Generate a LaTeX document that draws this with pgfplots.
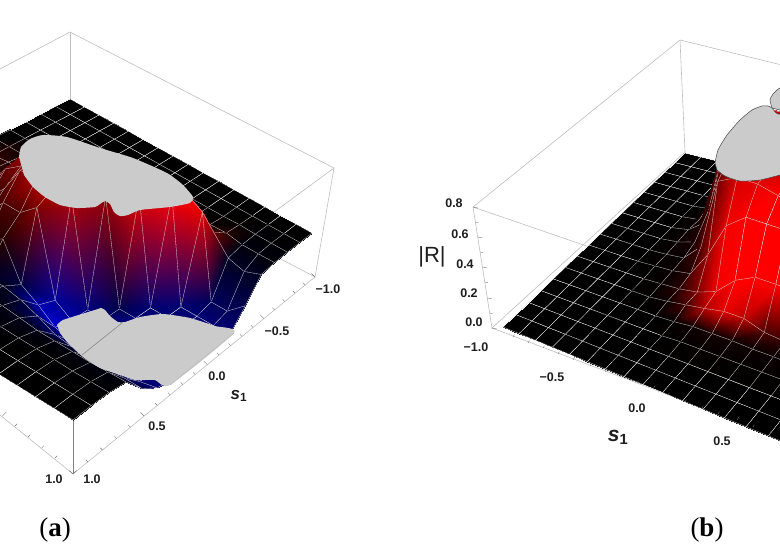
\documentclass[border=0pt]{standalone}
\usepackage{pgfplots}
\usepackage{pgfplotstable}
\pgfplotsset{compat=1.18}
\usepackage{fontspec}
\setmainfont{Liberation Sans}
\newfontfamily\capfont{Liberation Serif}
\definecolor{boxgray}{RGB}{190,190,190}
\definecolor{tickgray}{RGB}{120,120,120}
\definecolor{capgray}{RGB}{203,203,203}
\definecolor{labelk}{RGB}{30,30,30}
\tikzset{
  declare function={
    cj(\n)=floor((\n+.5)/17);
    ci(\n)=\n-17*floor((\n+.5)/17);
    fxl(\a,\b)=(316.4*\a/16-297.8*\b/16+73)/(1+.2481*\a/16+.0604*\b/16);
    fyl(\a,\b)=(-129.2*\a/16-161.3*\b/16+420)/(1+.2481*\a/16+.0604*\b/16);
    kl(\c)=1+(\c>0?.043:.03)*\c;
    fxr(\a,\b)=(160.8*\a/16+281.4*\b/16+503)/(1-.1855*\a/16+.1451*\b/16);
    fyr(\a,\b)=(43.6*\a/16-151.8*\b/16+327)/(1-.1855*\a/16+.1451*\b/16);
    kr(\c)=1+.055*\c;
  },
  tl/.style={font=\fontsize{12.5}{14}\selectfont\bfseries,text=labelk,inner sep=0pt},
}
\pgfplotsset{
  panel/.style={x=1pt,y=1pt,y dir=reverse,ymin=0,ymax=550,hide axis,anchor=south west},
  sheet/.style={surf,shader=faceted interp,faceted color=white!85!black,line width=.3pt,
    mesh/rows=17,mesh/cols=17,mesh/color input=explicit mathparse,
    point meta={symbolic={(\thisrow{m}+abs(\thisrow{m}))/2,0,(abs(\thisrow{m})-\thisrow{m})/2}}},
  boxline/.style={boxgray,line width=.6pt},
}
% z: height scaled to the clipped range, m: signed colour (red +, blue -)
% rows run from the far edge of the s1,s2 grid to the near edge
\pgfplotstableread[row sep=\\]{z m\\
0 0\\0 0\\0 0\\0 0\\0 0\\0 0\\0 0\\0 0\\0 0\\0 0\\0 0\\0 0\\0 0\\0 0\\0 0\\0 0\\0 0\\
0 0\\0 0\\0 0\\0 0\\0 0\\0 .1\\0 .2\\0 .2\\0 0\\0 0\\0 0\\0 0\\0 0\\0 0\\0 0\\0 0\\0 0\\
0 0\\0 0\\0 0\\0 0\\0 0\\0 .05\\.03 .15\\.05 .2\\.02 .1\\0 0\\0 0\\0 0\\0 0\\0 0\\0 0\\0 0\\0 0\\
0 0\\0 0\\0 0\\0 0\\0 0\\.01 .05\\.03 .1\\.1 .2\\.1 .2\\.02 .05\\0 0\\0 0\\0 0\\0 0\\0 0\\0 0\\0 0\\
0 0\\0 0\\0 0\\0 0\\0 0\\.02 .05\\.05 .1\\.3 .3\\.5 .4\\.2 .2\\.03 .05\\0 0\\0 0\\0 0\\0 0\\0 0\\0 0\\
0 0\\0 0\\0 0\\0 0\\0 0\\.02 .05\\.1 .2\\.9 .8\\.7 .5\\.5 .3\\.25 .15\\.03 .05\\0 0\\0 0\\0 0\\0 0\\0 0\\
0 0\\0 0\\0 0\\0 0\\.01 .02\\.03 .05\\.7 .7\\1 .8\\1 .8\\.95 .5\\.6 .3\\.15 .12\\0 0\\0 0\\0 0\\0 0\\0 0\\
0 0\\0 0\\0 0\\0 0\\.01 .02\\.05 .1\\.9 .8\\1 .8\\1 .8\\1 .7\\.6 .3\\.35 .15\\-.1 -.1\\-.05 -.05\\0 0\\0 0\\0 0\\
0 0\\0 0\\0 0\\0 0\\.01 .02\\.05 .1\\1 .8\\1 .85\\1 .85\\1 .8\\.85 .5\\-.35 -.25\\-.12 -.1\\-.03 -.03\\0 0\\0 0\\0 0\\
0 0\\0 0\\0 0\\0 0\\.01 .02\\.1 .15\\1 .85\\1 .9\\1 .85\\1 .7\\-.75 -.6\\-.6 -.7\\-.2 -.2\\-.06 -.08\\-.01 -.01\\0 0\\0 0\\
0 0\\0 0\\0 0\\0 0\\.02 .05\\.9 .85\\1 .9\\1 .85\\1 .6\\-1 -.5\\-1 -.65\\-.9 -.85\\-.35 -.35\\-.1 -.1\\-.02 -.03\\0 0\\0 0\\
0 0\\0 0\\0 0\\.01 .02\\.05 .1\\.95 .95\\1 1\\1 .9\\-1 -.3\\-1 -.45\\-1 -.55\\-1 -.65\\-.55 -.4\\-.15 -.08\\-.03 -.02\\0 0\\0 0\\
0 0\\0 0\\0 0\\.02 .05\\.1 .3\\.85 1\\1 1\\-1 -.45\\-1 -.45\\-1 -.45\\-1 -.45\\-1 -.55\\-.6 -.3\\-.15 -.06\\-.03 -.01\\0 0\\0 0\\
0 0\\0 0\\.01 .02\\.03 .15\\.2 .4\\.7 .9\\-1 -.45\\-1 -.45\\-1 -.45\\-1 -.45\\-1 -.45\\-1 -.45\\-.6 -.3\\-.15 -.05\\-.03 -.01\\0 0\\0 0\\
0 0\\0 0\\0 -.02\\-.02 -.05\\-.1 -.12\\-.9 -.35\\-1 -.45\\-1 -.45\\-1 -.45\\-1 -.45\\-1 -.45\\-1 -.45\\-.6 -.3\\-.15 -.05\\-.04 -.01\\0 0\\0 0\\
0 0\\0 0\\0 -.02\\-.02 -.05\\-.2 -.15\\-.9 -.35\\-1 -.45\\-1 -.45\\-1 -.45\\-1 -.45\\-1 -.45\\-1 -.45\\-.6 -.3\\-.12 -.05\\-.03 -.01\\0 0\\0 0\\
0 0\\0 0\\0 -.01\\-.01 -.03\\-.05 -.12\\-.55 -.3\\-1 -.45\\-1 -.45\\-1 -.45\\-1 -.45\\-1 -.45\\-.9 -.45\\-.6 -.3\\-.1 -.05\\-.02 -.01\\0 0\\0 0\\}\gridA
\pgfplotstableread[row sep=\\]{z m\\
0 0\\0 0\\0 0\\0 0\\0 0\\0 0\\0 0\\0 0\\0 0\\0 0\\0 0\\0 0\\0 0\\0 0\\0 0\\0 0\\0 0\\
0 0\\0 0\\0 0\\0 0\\0 0\\0 0\\0 0\\0 0\\0 0\\0 0\\0 0\\0 0\\0 0\\0 0\\0 0\\0 0\\0 0\\
0 0\\0 0\\0 0\\0 0\\0 0\\0 0\\.2 .2\\.5 .5\\.6 .6\\.6 .6\\.6 .6\\.6 .6\\.6 .6\\.6 .6\\.6 .6\\.6 .6\\.6 .6\\
0 0\\0 0\\0 0\\0 0\\0 0\\.03 .05\\.8 .7\\1 .8\\1 .8\\1 .8\\1 .8\\1 .8\\1 .8\\1 .8\\1 .8\\1 .8\\1 .8\\
0 0\\0 0\\0 0\\0 0\\.02 .03\\.1 .1\\.9 .7\\1 .8\\1 .8\\1 .8\\1 .8\\1 .8\\1 .8\\1 .8\\1 .8\\1 .8\\1 .8\\
0 0\\0 0\\0 0\\0 0\\.02 .03\\.3 .1\\.95 .6\\1 .8\\1 .8\\1 .8\\1 .8\\1 .8\\1 .8\\1 .8\\1 .8\\1 .8\\1 .8\\
0 0\\0 0\\0 0\\0 0\\.03 .03\\.15 .12\\.85 .4\\1 .8\\1 .8\\1 .8\\1 .8\\1 .8\\1 .8\\1 .8\\1 .8\\1 .8\\1 .8\\
0 0\\0 0\\0 0\\0 0\\.02 .03\\.07 .1\\.5 .2\\1 .5\\1 .85\\1 .85\\1 .85\\1 .85\\1 .85\\1 .85\\1 .85\\1 .85\\1 .85\\
0 0\\0 0\\0 0\\0 0\\.01 .02\\.03 .03\\.2 .25\\.9 .45\\1 .85\\1 .9\\.95 1\\.9 1\\.9 1\\.9 1\\.9 1\\.9 1\\.9 1\\
0 0\\0 0\\0 0\\0 0\\.01 .01\\.02 .03\\.05 .15\\.3 .6\\.65 .95\\.8 1\\.8 1\\.8 1\\.8 1\\.8 1\\.8 1\\.8 1\\.8 1\\
0 0\\0 0\\0 0\\0 0\\0 0\\.01 .02\\.02 .15\\.05 .5\\.12 .95\\.3 1\\.4 1\\.4 1\\.4 1\\.4 1\\.4 1\\.4 1\\.4 1\\
0 0\\0 0\\0 0\\0 0\\0 0\\0 .01\\.02 .04\\.05 .25\\.08 .7\\.12 .9\\.12 .75\\.05 .3\\.03 .2\\.02 .1\\.02 .1\\.02 .1\\.02 .1\\
0 0\\0 0\\0 0\\0 0\\0 0\\0 0\\0 0\\.01 .01\\.03 .05\\.03 .08\\.03 .06\\.02 .05\\.02 .03\\.01 .02\\.01 .02\\.01 .02\\.01 .02\\
0 0\\0 0\\0 0\\0 0\\0 0\\0 0\\0 0\\0 0\\.01 .01\\.01 .02\\.01 .02\\.01 .01\\.01 .01\\.01 .01\\.01 .01\\.01 .01\\.01 .01\\
0 0\\0 0\\0 0\\0 0\\0 0\\0 0\\0 0\\0 0\\0 0\\0 0\\0 0\\0 0\\0 0\\0 0\\0 0\\0 0\\0 0\\
0 0\\0 0\\0 0\\0 0\\0 0\\0 0\\0 0\\0 0\\0 0\\0 0\\0 0\\0 0\\0 0\\0 0\\0 0\\0 0\\0 0\\
0 0\\0 0\\0 0\\0 0\\0 0\\0 0\\0 0\\0 0\\0 0\\0 0\\0 0\\0 0\\0 0\\0 0\\0 0\\0 0\\0 0\\}\gridB
\begin{document}
\begin{tikzpicture}
\useasboundingbox (0,0) rectangle (780pt,550pt);
% panel (a)
\begin{axis}[panel,at={(0,0)},xmin=0,xmax=390]
  \addplot[boxline] coordinates {(0,69) (70,32) (334,168) (315,277) (262,249)};
  \addplot[boxline] coordinates {(70,32) (70,110)};
  \addplot[boxline] coordinates {(334,168) (240,237)};
  \addplot[boxline] coordinates {(0,415) (73,474) (315,277)};
  \addplot[boxline,gray] coordinates {(73,474) (73,415)};
  \addplot[sheet] table[
    x expr={72+(fxl(16-ci(\coordindex),16-cj(\coordindex))-72)*kl(\thisrow{z})},
    y expr={1668+(fyl(16-ci(\coordindex),16-cj(\coordindex))-1668)*kl(\thisrow{z})}] {\gridA};
  \addplot[fill=capgray,draw=none,smooth,tension=.35] coordinates {
    (19,157) (21,147) (30,139) (43,135) (67,137) (100,148) (133,158) (167,173) (183,185) (193,197)
    (190,203) (170,207) (140,210) (128,215) (120,216) (114,212) (110,204) (105,201) (100,204) (95,207)
    (77,208) (60,205) (45,197) (33,187) (24,175)} -- cycle;
  \addplot[fill=capgray,draw=none,smooth,tension=.35] coordinates {
    (57,325) (63,320) (85,313) (98,309) (101,308) (105,310) (110,316) (118,322) (125,322) (140,317)
    (163,314) (190,318) (215,326) (234,333) (170,385) (155,380) (135,380) (120,375) (100,368) (83,357)
    (68,343) (60,333)} -- cycle;
  \addplot[gray,line width=.5pt] coordinates {(82,355) (122,323)};
  \addplot[boxline] coordinates {(234,333) (170,385)};
  \addplot[tickgray,line width=.4pt,quiver={u=-2.2,v=-2.2}] table[row sep=\\] {x y\\ 87.9 461.9\\ 102.5 450\\ 116.7 438.5\\ 130.5 427.1\\ 157.3 405.3\\ 170.2 394.8\\ 182.9 384.5\\
    195.2 374.5\\ 219.1 355\\ 230.7 345.6\\ 242 336.4\\ 253.1 327.4\\ 274.5 309.9\\ 284.9 301.5\\
    295.1 293.1\\ 305.1 285\\};
  \addplot[tickgray,line width=.4pt,quiver={u=-3.6,v=-3.6}] table[row sep=\\] {x y\\ 73 474\\ 144.1 416.1\\ 207.3 364.7\\ 263.9 318.5\\ 315 277\\};
  \addplot[tickgray,line width=.4pt,quiver={u=2.2,v=-2.2}] table[row sep=\\] {x y\\ 55 458\\ 41.7 448\\ 28 437\\ 15 426\\};
  \addplot[tickgray,line width=.4pt,quiver={u=3.6,v=-3.6}] table[row sep=\\] {x y\\ 73 474\\ 2.7 415.7\\};
  \node[tl] at (axis cs:54,479) {1.0};
  \node[tl] at (axis cs:92,479) {1.0};
  \node[tl] at (axis cs:157,426) {0.5};
  \node[tl] at (axis cs:217,376) {0.0};
  \node[tl] at (axis cs:277,331) {−0.5};
  \node[tl] at (axis cs:328,289) {−1.0};
  \node[tl,font=\fontsize{17}{18}\selectfont\bfseries\itshape] at (axis cs:239,396) {s\textsubscript{\upshape 1}};
  \node[inner sep=0pt,text=black] at (axis cs:55,530) {\capfont\fontsize{27}{29}\selectfont (\textbf{a})};
\end{axis}
% panel (b)
\begin{axis}[panel,at={(390pt,0)},xmin=390,xmax=780]
  \addplot[boxline] coordinates {(492,328) (473,207) (680,40) (790,67)};
  \addplot[boxline] coordinates {(680,40) (685,152) (492,328) (790,441)};
  \addplot[boxline] coordinates {(473,207) (700,285)};
  \addplot[sheet] table[
    x expr={772+(fxr(ci(\coordindex),16-cj(\coordindex))-772)*kr(\thisrow{z})},
    y expr={2115+(fyr(ci(\coordindex),16-cj(\coordindex))-2115)*kr(\thisrow{z})}] {\gridB};
  \addplot[fill=capgray,draw={rgb,255:red,70;green,70;blue,70},line width=.5pt,smooth,tension=.35] coordinates {
    (772,108) (770,100) (773,94) (780,88) (795,85) (800,115)} -- cycle;
  \addplot[fill=capgray,draw={rgb,255:red,70;green,70;blue,70},line width=.5pt,smooth,tension=.35] coordinates {
    (715,163) (718,150) (727,135) (740,120) (752,110) (762,106) (768,106) (772,108) (778,114) (800,115)
    (800,170) (780,175) (760,180) (740,181) (725,176) (717,170)} -- cycle;
  \addplot[tickgray,line width=.4pt,quiver={u=1.4,v=-2.4}] table[row sep=\\] {x y\\ 513 337\\ 528 343\\ 543 348\\ 558 354\\ 590 366\\ 605 372\\ 620 377\\ 637 383\\ 668 395\\
    685 402\\ 702 408\\ 718 414\\ 753 427\\ 770 433\\};
  \addplot[tickgray,line width=.4pt,quiver={u=2.2,v=-3.6}] table[row sep=\\] {x y\\ 573 360\\ 653 389\\ 737 420\\};
  \addplot[tickgray,line width=.4pt,quiver={u=3,v=.6}] table[row sep=\\] {x y\\ 475.4 222\\ 480.2 252\\ 485 282\\ 489.6 313\\};
  \addplot[tickgray,line width=.4pt,quiver={u=4.5,v=.9}] table[row sep=\\] {x y\\ 473 207\\ 477.8 237\\ 482.6 267\\ 487.4 298\\ 492 328\\};
  \node[tl] at (axis cs:454,203) {0.8};
  \node[tl] at (axis cs:460,234) {0.6};
  \node[tl] at (axis cs:465,264) {0.4};
  \node[tl] at (axis cs:469,293) {0.2};
  \node[tl] at (axis cs:474,322) {0.0};
  \node[tl] at (axis cs:476,347) {−1.0};
  \node[tl] at (axis cs:552,377) {−0.5};
  \node[tl] at (axis cs:637,408) {0.0};
  \node[tl] at (axis cs:722,441) {0.5};
  \node[inner sep=0pt,text=labelk] at (axis cs:432,257) {\fontsize{22}{24}\selectfont |R|};
  \node[tl,font=\fontsize{21}{23}\selectfont\bfseries\itshape] at (axis cs:618,437) {s\textsubscript{\upshape 1}};
  \node[inner sep=0pt,text=black] at (axis cs:707,530) {\capfont\fontsize{27}{29}\selectfont (\textbf{b})};
\end{axis}
\end{tikzpicture}
\end{document}
